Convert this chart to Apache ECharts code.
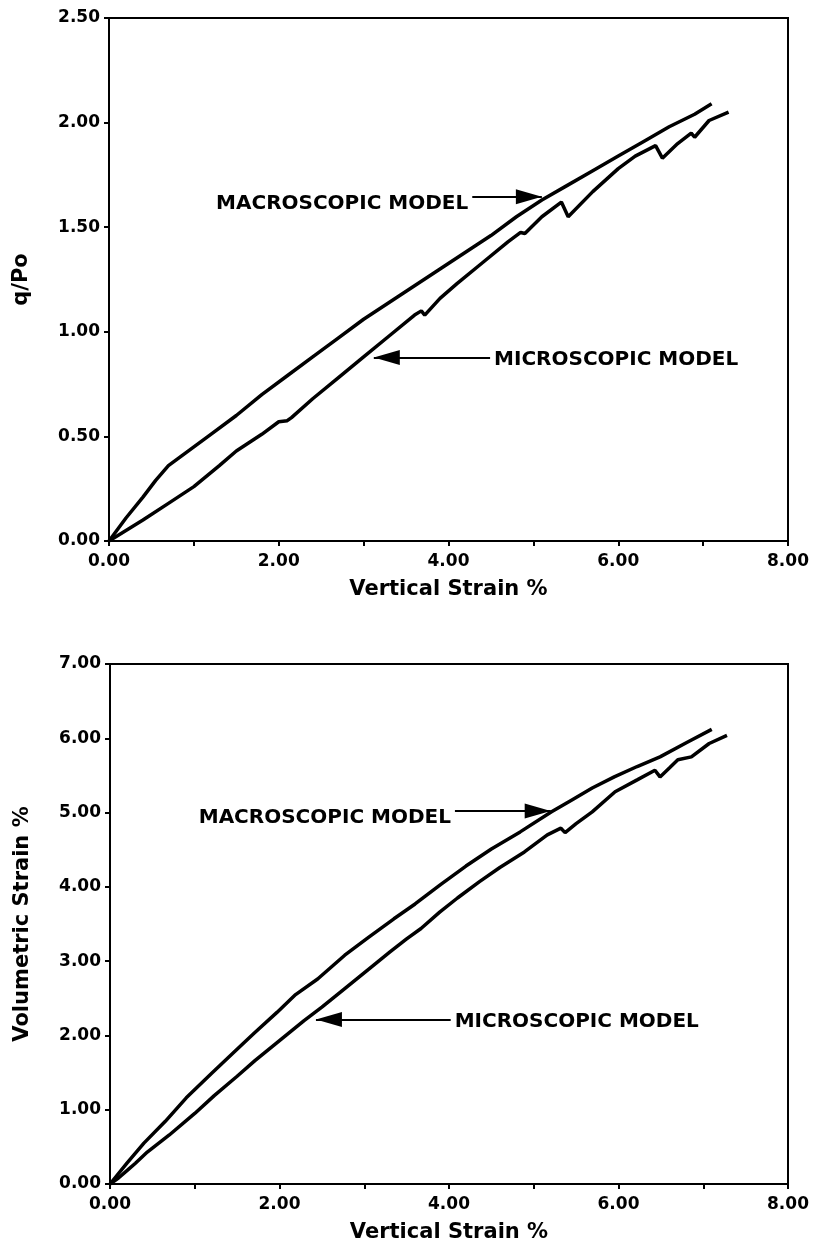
<!DOCTYPE html>
<html>
<head>
<meta charset="utf-8">
<script src="https://cdn.jsdelivr.net/npm/echarts@6/dist/echarts.min.js"></script>
<style>
html,body{margin:0;padding:0;background:#fff;}
#chart{width:814px;height:1247px;}
</style>
</head>
<body>
<div id="chart"></div>
<script>
// ---- Data ----
const xAxisTitle = 'Vertical Strain %';
const topYTitle = 'q/Po';
const bottomYTitle = 'Volumetric Strain %';
const labelMacro = 'MACROSCOPIC MODEL';
const labelMicro = 'MICROSCOPIC MODEL';

// Top chart: q/Po vs vertical strain
const macroQx = [0,0.2,0.4,0.55,0.7,0.9,1.2,1.5,1.8,2.1,2.4,2.7,3.0,3.3,3.6,3.9,4.2,4.5,4.8,5.1,5.4,5.7,6.0,6.3,6.6,6.9,7.1];
const macroQy = [0,0.11,0.21,0.29,0.36,0.42,0.51,0.60,0.70,0.79,0.88,0.97,1.06,1.14,1.22,1.30,1.38,1.46,1.55,1.63,1.70,1.77,1.84,1.91,1.98,2.04,2.09];
const microQx = [0,0.2,0.4,0.7,1.0,1.3,1.5,1.8,2.0,2.1,2.15,2.4,2.7,3.0,3.3,3.6,3.68,3.72,3.9,4.1,4.4,4.7,4.85,4.9,5.1,5.33,5.41,5.7,6.0,6.2,6.44,6.52,6.7,6.86,6.9,7.07,7.3];
const microQy = [0,0.05,0.10,0.18,0.26,0.36,0.43,0.51,0.57,0.575,0.59,0.68,0.78,0.88,0.98,1.08,1.10,1.08,1.16,1.23,1.33,1.43,1.475,1.47,1.55,1.62,1.55,1.67,1.78,1.84,1.89,1.83,1.90,1.95,1.93,2.01,2.05];

// Bottom chart: volumetric strain vs vertical strain
const macroVx = [0,0.2,0.4,0.65,0.9,1.2,1.44,1.7,1.97,2.19,2.45,2.77,3.05,3.35,3.6,3.9,4.2,4.5,4.84,5.21,5.45,5.69,5.95,6.22,6.49,6.8,7.1];
const macroVy = [0,0.28,0.55,0.84,1.16,1.49,1.75,2.03,2.31,2.55,2.76,3.08,3.32,3.57,3.77,4.03,4.28,4.51,4.74,5.01,5.17,5.33,5.48,5.62,5.75,5.94,6.12];
const microVx = [0,0.1,0.22,0.3,0.44,0.7,1.0,1.23,1.5,1.71,2.0,2.29,2.5,2.77,3.05,3.3,3.5,3.67,3.89,4.1,4.36,4.6,4.89,5.16,5.32,5.37,5.5,5.69,5.96,6.22,6.43,6.49,6.6,6.7,6.86,7.07,7.28];
const microVy = [0,0.08,0.20,0.28,0.43,0.66,0.95,1.19,1.45,1.66,1.93,2.20,2.38,2.63,2.89,3.12,3.30,3.44,3.66,3.85,4.07,4.26,4.47,4.70,4.79,4.73,4.85,5.01,5.28,5.44,5.57,5.48,5.60,5.71,5.75,5.93,6.04];

// Annotation arrows in data coordinates: [tail, tip]
const topMacroArrow = [[4.28,1.646],[5.10,1.646]];
const topMicroArrow = [[4.49,0.877],[3.12,0.877]];
const botMacroArrow = [[4.07,5.02],[5.20,5.02]];
const botMicroArrow = [[4.02,2.216],[2.43,2.216]];

// ---- Chart ----
const zip = (xs, ys) => xs.map((x, i) => [x, ys[i]]);
const FONT = '"DejaVu Sans", Verdana, sans-serif';
const BLACK = '#000000';
const HEAD_LEN = 26, HEAD_W = 15;

function xAxisFor(gi) {
  return {
    type: 'value', gridIndex: gi, min: 0, max: 8, interval: 1,
    name: xAxisTitle, nameLocation: 'middle', nameGap: 38,
    nameTextStyle: {fontFamily: FONT, fontWeight: 'bold', fontSize: 21, color: BLACK},
    axisLine: {lineStyle: {color: BLACK, width: 2}},
    axisTick: {show: true, length: 5, lineStyle: {color: BLACK, width: 2}},
    axisLabel: {
      fontFamily: FONT, fontWeight: 'bold', fontSize: 17, color: BLACK, margin: 12,
      formatter: v => (v % 2 === 0 ? v.toFixed(2) : '')
    },
    splitLine: {show: false}
  };
}
function yAxisFor(gi, max, interval, title) {
  return {
    type: 'value', gridIndex: gi, min: 0, max: max, interval: interval,
    name: title, nameLocation: 'middle', nameGap: 77,
    nameTextStyle: {fontFamily: FONT, fontWeight: 'bold', fontSize: 21, color: BLACK},
    axisLine: {lineStyle: {color: BLACK, width: 2}},
    axisTick: {show: true, length: 5, lineStyle: {color: BLACK, width: 2}},
    axisLabel: {
      fontFamily: FONT, fontWeight: 'bold', fontSize: 17, color: BLACK, margin: 9,
      formatter: v => v.toFixed(2)
    },
    splitLine: {show: false}
  };
}
function curve(name, data, gi) {
  return {
    name, type: 'line', xAxisIndex: gi, yAxisIndex: gi, data,
    showSymbol: false, symbol: 'none', smooth: false, silent: true,
    lineStyle: {color: BLACK, width: 3.5}
  };
}
function arrow(pts, gi) {
  const pointsRight = pts[1][0] > pts[0][0];
  return {
    type: 'line', xAxisIndex: gi, yAxisIndex: gi, data: [], silent: true,
    markLine: {
      silent: true, animation: false,
      symbol: ['none', 'none'],
      label: {show: false},
      lineStyle: {color: BLACK, width: 2, type: 'solid', opacity: 1},
      data: [[{coord: pts[0]}, {coord: pts[1]}]]
    },
    markPoint: {
      silent: true, animation: false,
      symbol: 'triangle',
      symbolSize: [HEAD_W, HEAD_LEN],
      symbolRotate: pointsRight ? -90 : 90,
      symbolOffset: [pointsRight ? -HEAD_LEN / 2 : HEAD_LEN / 2, 0],
      itemStyle: {color: BLACK},
      label: {show: false},
      data: [{coord: pts[1]}]
    }
  };
}
function label(text, pt, pos, gi) {
  return {
    type: 'scatter', xAxisIndex: gi, yAxisIndex: gi, silent: true,
    symbolSize: 0, itemStyle: {color: BLACK, opacity: 1},
    data: [pt],
    label: {
      show: true, position: pos, distance: 4, formatter: text, opacity: 1,
      fontFamily: FONT, fontWeight: 'bold', fontSize: 20, color: BLACK
    }
  };
}

const chart = echarts.init(document.getElementById('chart'), null, {renderer: 'canvas'});
chart.setOption({
  animation: false,
  backgroundColor: '#fff',
  grid: [
    {left: 109, right: 26, top: 18, height: 523, show: true, borderColor: BLACK, borderWidth: 2, backgroundColor: 'transparent'},
    {left: 110, right: 26, top: 664, height: 520, show: true, borderColor: BLACK, borderWidth: 2, backgroundColor: 'transparent'}
  ],
  xAxis: [xAxisFor(0), xAxisFor(1)],
  yAxis: [yAxisFor(0, 2.5, 0.5, topYTitle), yAxisFor(1, 7, 1, bottomYTitle)],
  series: [
    curve('Macroscopic q', zip(macroQx, macroQy), 0),
    curve('Microscopic q', zip(microQx, microQy), 0),
    curve('Macroscopic v', zip(macroVx, macroVy), 1),
    curve('Microscopic v', zip(microVx, microVy), 1),
    arrow(topMacroArrow, 0),
    arrow(topMicroArrow, 0),
    arrow(botMacroArrow, 1),
    arrow(botMicroArrow, 1),
    label(labelMacro, [topMacroArrow[0][0], topMacroArrow[0][1] - 0.035], 'left', 0),
    label(labelMicro, [topMicroArrow[0][0], topMicroArrow[0][1] - 0.01], 'right', 0),
    label(labelMacro, [botMacroArrow[0][0], botMacroArrow[0][1] - 0.09], 'left', 1),
    label(labelMicro, [botMicroArrow[0][0], botMicroArrow[0][1] - 0.036], 'right', 1)
  ]
});
</script>
</body>
</html>
